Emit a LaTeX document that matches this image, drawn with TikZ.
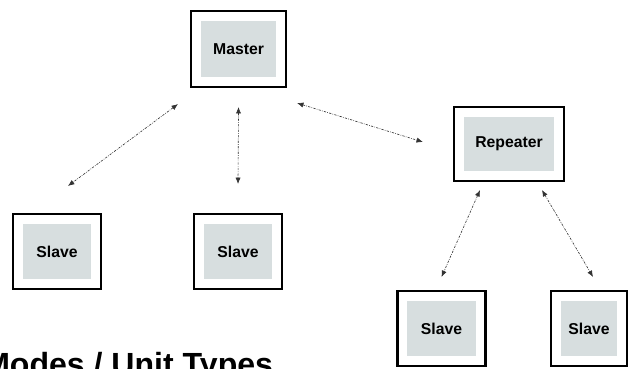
\documentclass[tikz,border=0pt]{standalone}
\usepackage{fontspec}
\setmainfont{Liberation Sans}
\usetikzlibrary{arrows.meta}
\definecolor{boxgrey}{RGB}{215,222,223}

\begin{document}
\begin{tikzpicture}[>=latex]

% --- Styles ---
\tikzset{
    unit/.style={
        draw=black, line width=1.8pt,
        inner sep=0pt,
        font=\fontsize{11.2}{13}\selectfont\bfseries,
        path picture={
            \fill[boxgrey] ([shift={(0.24,-0.24)}]path picture bounding box.north west)
                rectangle ([shift={(-0.24,0.24)}]path picture bounding box.south east);
        }
    },
    slavebox/.style={unit, minimum width=2.19cm, minimum height=1.865cm},
    link/.style={
        {Latex[length=1.6mm,width=1.3mm]}-{Latex[length=1.6mm,width=1.3mm]},
        line width=0.45pt,
        draw=black!80,
        dash pattern=on 1.6pt off 0.9pt on 0.5pt off 0.9pt
    },
    heading/.style={font=\fontsize{22.8}{26}\selectfont\bfseries, inner sep=0pt, anchor=base west}
}

% frame of the picture (629 x 368)
\useasboundingbox (0,0) rectangle (15.725,-9.2);
\clip (0,0) rectangle (15.725,-9.2);

% --- Units ---
\node[unit, minimum width=2.365cm, minimum height=1.89cm] (master) at (5.963,-1.225) {Master};
\node[unit, minimum width=2.74cm, minimum height=1.84cm] (repeater) at (12.725,-3.6) {Repeater};

\node[slavebox] (slaveA) at (1.425,-6.288) {Slave};
\node[slavebox] (slaveB) at (5.95,-6.288) {Slave};
\node[slavebox] (slaveC) at (11.038,-8.213) {Slave};
\node[slavebox, minimum width=1.9cm] (slaveD) at (14.725,-8.213) {Slave};

% --- Links ---
\draw[link] ([xshift=-0.3cm,yshift=-0.4cm]master.south west) -- ([xshift=0.275cm,yshift=0.675cm]slaveA.north);
\draw[link] ([yshift=-0.475cm]master.south) -- ([yshift=0.725cm]slaveB.north);
\draw[link] ([xshift=0.25cm,yshift=-0.375cm]master.south east) -- ([xshift=-0.75cm,yshift=0.05cm]repeater.west);
\draw[link] ([xshift=-0.725cm,yshift=-0.2cm]repeater.south) -- ([yshift=0.325cm]slaveC.north);
\draw[link] ([xshift=0.825cm,yshift=-0.2cm]repeater.south) -- ([xshift=0.1cm,yshift=0.325cm]slaveD.north);

% --- Title (cut by the frame) ---
\node[heading] (title) at (-0.425,-9.375) {Modes / Unit Types};

\end{tikzpicture}
\end{document}
